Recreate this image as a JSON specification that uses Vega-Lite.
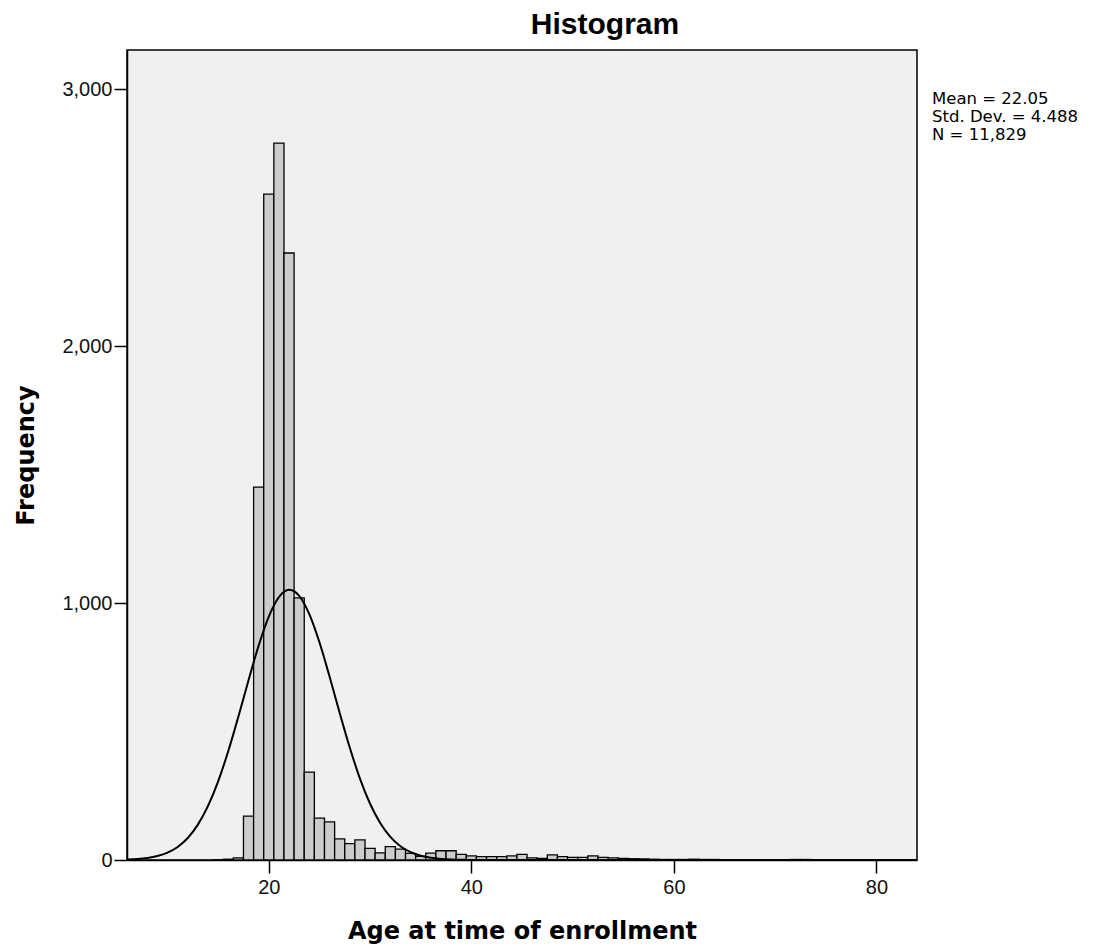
{
  "$schema": "https://vega.github.io/schema/vega-lite/v6.json",
  "width": 790,
  "height": 810,
  "autosize": {"type": "none"},
  "padding": {"left": 127, "top": 50, "right": 187, "bottom": 91},
  "background": "white",
  "config": {
    "view": {"stroke": "black", "strokeWidth": 1.5, "fill": "#f0f0f0"},
    "axis": {
      "labelFont": "Liberation Sans",
      "labelFontSize": 20,
      "labelColor": "#111111",
      "titleFont": "DejaVu Sans",
      "titleFontSize": 24,
      "titleFontWeight": "bold",
      "titleColor": "black",
      "domainColor": "black",
      "domainWidth": 1.5,
      "tickColor": "black",
      "tickWidth": 1.5,
      "tickSize": 13,
      "grid": false
    },
    "title": {"font": "Liberation Sans", "fontSize": 30, "fontWeight": "bold", "color": "black"}
  },
  "title": {"text": "Histogram", "anchor": "middle", "frame": "group", "dx": 83, "offset": 10},
  "datasets": {
    "hist": [
      {"lo": 14.5, "hi": 15.5, "count": 1},
      {"lo": 15.5, "hi": 16.5, "count": 3},
      {"lo": 16.5, "hi": 17.5, "count": 8},
      {"lo": 17.5, "hi": 18.5, "count": 171},
      {"lo": 18.5, "hi": 19.5, "count": 1451},
      {"lo": 19.5, "hi": 20.5, "count": 2591},
      {"lo": 20.5, "hi": 21.5, "count": 2790},
      {"lo": 21.5, "hi": 22.5, "count": 2362},
      {"lo": 22.5, "hi": 23.5, "count": 1020},
      {"lo": 23.5, "hi": 24.5, "count": 342},
      {"lo": 24.5, "hi": 25.5, "count": 163},
      {"lo": 25.5, "hi": 26.5, "count": 148},
      {"lo": 26.5, "hi": 27.5, "count": 82},
      {"lo": 27.5, "hi": 28.5, "count": 64},
      {"lo": 28.5, "hi": 29.5, "count": 78},
      {"lo": 29.5, "hi": 30.5, "count": 45},
      {"lo": 30.5, "hi": 31.5, "count": 28},
      {"lo": 31.5, "hi": 32.5, "count": 52},
      {"lo": 32.5, "hi": 33.5, "count": 42},
      {"lo": 33.5, "hi": 34.5, "count": 26},
      {"lo": 34.5, "hi": 35.5, "count": 14},
      {"lo": 35.5, "hi": 36.5, "count": 27},
      {"lo": 36.5, "hi": 37.5, "count": 36},
      {"lo": 37.5, "hi": 38.5, "count": 36},
      {"lo": 38.5, "hi": 39.5, "count": 22},
      {"lo": 39.5, "hi": 40.5, "count": 16},
      {"lo": 40.5, "hi": 41.5, "count": 13},
      {"lo": 41.5, "hi": 42.5, "count": 13},
      {"lo": 42.5, "hi": 43.5, "count": 13},
      {"lo": 43.5, "hi": 44.5, "count": 16},
      {"lo": 44.5, "hi": 45.5, "count": 22},
      {"lo": 45.5, "hi": 46.5, "count": 8},
      {"lo": 46.5, "hi": 47.5, "count": 6},
      {"lo": 47.5, "hi": 48.5, "count": 20},
      {"lo": 48.5, "hi": 49.5, "count": 13},
      {"lo": 49.5, "hi": 50.5, "count": 10},
      {"lo": 50.5, "hi": 51.5, "count": 10},
      {"lo": 51.5, "hi": 52.5, "count": 16},
      {"lo": 52.5, "hi": 53.5, "count": 10},
      {"lo": 53.5, "hi": 54.5, "count": 8},
      {"lo": 54.5, "hi": 55.5, "count": 6},
      {"lo": 55.5, "hi": 56.5, "count": 5},
      {"lo": 56.5, "hi": 57.5, "count": 4},
      {"lo": 57.5, "hi": 58.5, "count": 3},
      {"lo": 58.5, "hi": 59.5, "count": 2},
      {"lo": 59.5, "hi": 60.5, "count": 2},
      {"lo": 60.5, "hi": 61.5, "count": 2},
      {"lo": 61.5, "hi": 62.5, "count": 3},
      {"lo": 62.5, "hi": 63.5, "count": 2},
      {"lo": 63.5, "hi": 64.5, "count": 2},
      {"lo": 64.5, "hi": 65.5, "count": 1},
      {"lo": 65.5, "hi": 66.5, "count": 1},
      {"lo": 67.5, "hi": 68.5, "count": 1},
      {"lo": 69.5, "hi": 70.5, "count": 1},
      {"lo": 71.5, "hi": 72.5, "count": 2},
      {"lo": 72.5, "hi": 73.5, "count": 2},
      {"lo": 74.5, "hi": 75.5, "count": 1}
    ],
    "curve": [
      {"age": 6, "freq": 1.76},
      {"age": 7, "freq": 3.8},
      {"age": 8, "freq": 7.83},
      {"age": 9, "freq": 15.3},
      {"age": 10, "freq": 28.6},
      {"age": 11, "freq": 50.8},
      {"age": 12, "freq": 85.7},
      {"age": 13, "freq": 137.6},
      {"age": 14, "freq": 210.5},
      {"age": 15, "freq": 306.2},
      {"age": 16, "freq": 423.9},
      {"age": 17, "freq": 558.4},
      {"age": 18, "freq": 699.8},
      {"age": 19, "freq": 834.7},
      {"age": 20, "freq": 947.3},
      {"age": 21, "freq": 1023.1},
      {"age": 22, "freq": 1051.4},
      {"age": 23, "freq": 1028.2},
      {"age": 24, "freq": 956.8},
      {"age": 25, "freq": 847.2},
      {"age": 26, "freq": 713.9},
      {"age": 27, "freq": 572.3},
      {"age": 28, "freq": 436.7},
      {"age": 29, "freq": 317.0},
      {"age": 30, "freq": 219.0},
      {"age": 31, "freq": 143.9},
      {"age": 32, "freq": 90.0},
      {"age": 33, "freq": 53.6},
      {"age": 34, "freq": 30.4},
      {"age": 35, "freq": 16.4},
      {"age": 36, "freq": 8.39},
      {"age": 37, "freq": 4.09},
      {"age": 38, "freq": 1.9},
      {"age": 39, "freq": 0.84},
      {"age": 40, "freq": 0.35},
      {"age": 42, "freq": 0.05},
      {"age": 45, "freq": 0},
      {"age": 50, "freq": 0},
      {"age": 60, "freq": 0},
      {"age": 70, "freq": 0},
      {"age": 84, "freq": 0}
    ],
    "stats": [
      {"label": "Mean = 22.05", "pos": 2992},
      {"label": "Std. Dev. = 4.488", "pos": 2922},
      {"label": "N = 11,829", "pos": 2852}
    ]
  },
  "layer": [
    {
      "data": {"name": "hist"},
      "mark": {"type": "bar", "fill": "#cccccc", "stroke": "black", "strokeWidth": 1.3},
      "encoding": {
        "x": {
          "field": "lo", "type": "quantitative",
          "scale": {"domain": [6, 84], "nice": false, "zero": false},
          "axis": {"title": "Age at time of enrollment", "values": [20, 40, 60, 80], "labelPadding": 4, "titlePadding": 22}
        },
        "x2": {"field": "hi"},
        "y": {
          "field": "count", "type": "quantitative",
          "scale": {"domain": [0, 3152], "nice": false},
          "axis": {"title": "Frequency", "values": [0, 1000, 2000, 3000], "format": ",d", "labelPadding": 2, "titlePadding": 23}
        },
        "y2": {"datum": 0}
      }
    },
    {
      "data": {"name": "curve"},
      "mark": {"type": "line", "color": "black", "strokeWidth": 2, "interpolate": "monotone"},
      "encoding": {
        "x": {"field": "age", "type": "quantitative", "title": "Age at time of enrollment"},
        "y": {"field": "freq", "type": "quantitative", "title": "Frequency"}
      }
    },
    {
      "data": {"name": "stats"},
      "mark": {
        "type": "text",
        "align": "left",
        "baseline": "top",
        "font": "DejaVu Sans",
        "fontSize": 16.5,
        "color": "black",
        "clip": false
      },
      "encoding": {
        "text": {"field": "label", "type": "nominal"},
        "x": {"datum": 85.48, "type": "quantitative"},
        "y": {"field": "pos", "type": "quantitative"}
      }
    }
  ]
}
